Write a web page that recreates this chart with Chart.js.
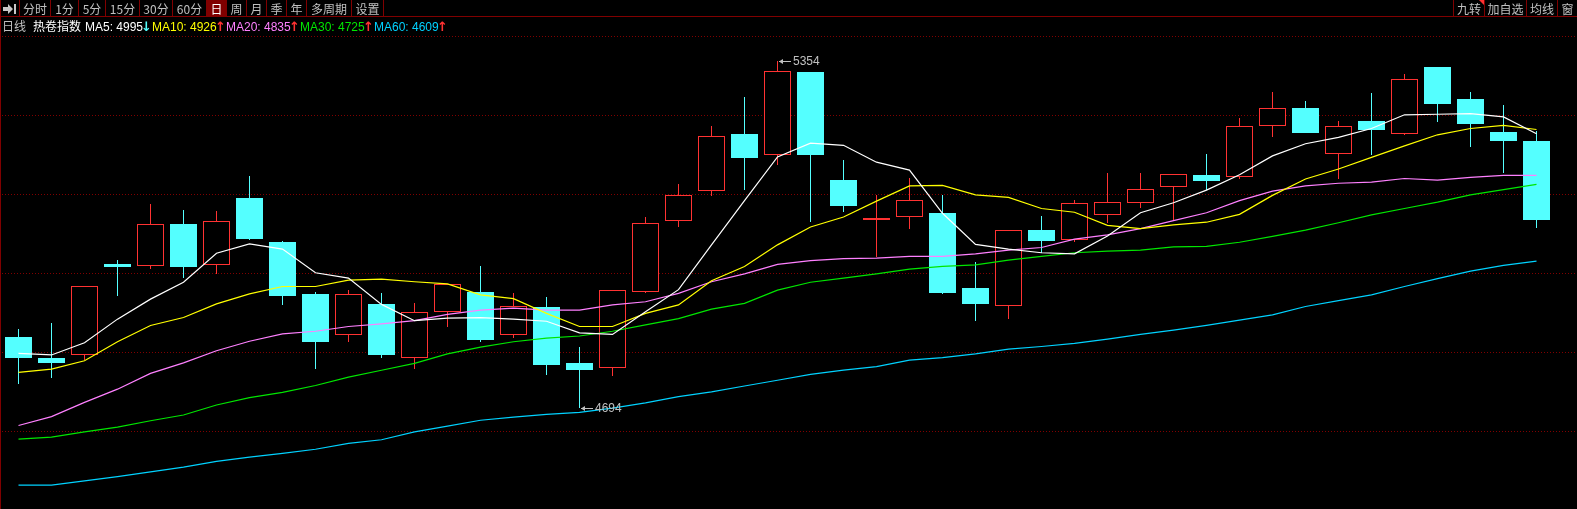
<!DOCTYPE html>
<html>
<head>
<meta charset="utf-8">
<title>热卷指数 日线</title>
<script src="https://cdn.jsdelivr.net/npm/chart.js@4/dist/chart.umd.min.js"></script>
<style>
  html, body { margin: 0; padding: 0; width: 1577px; height: 509px; background: #000; overflow: hidden; }
  #line-chart { position: absolute; left: 0; top: 0; }
  #left-edge { position: absolute; left: 0; top: 0; width: 1px; height: 509px; background: #800000; }
  #bar-line { position: absolute; left: 0; top: 16px; width: 1577px; height: 1px; background: #800000; }
  .btn { position: absolute; top: 0; height: 16px; text-align: center; color: #c0c0c0;
         font: 12px/17px "Noto Sans CJK SC"; border-right: 1px solid #800000; box-sizing: border-box; }
  .btn.on { background: #800000; color: #fff; }
  .leg { position: absolute; top: 19px; font: 12px/16px "Liberation Sans", "Noto Sans CJK SC"; white-space: nowrap; }
  .arr { font: 13px/16px "DejaVu Sans"; font-weight: bold; }
  #flag { position: absolute; left: 1479px; top: 0; width: 0; height: 0; border-top: 5px solid #ff3232; border-left: 5px solid transparent; }
  #arrow-icon { position: absolute; left: 3px; top: 4px; width: 14px; height: 10px; }
</style>
</head>
<body>
<canvas id="line-chart" width="1577" height="509"></canvas>
<div id="left-edge"></div>
<div id="bar-line"></div>

<svg id="arrow-icon" viewBox="0 0 14 10"><path d="M0 3h5V0l5 5-5 5V7H0z" fill="#c8c8c8"/><rect x="11" y="0" width="2" height="10" fill="#c8c8c8"/></svg>
<span class="btn" style="left:19px;width:32px;border-left:1px solid #800000">分时</span>
<span class="btn" style="left:51px;width:28px">1分</span>
<span class="btn" style="left:79px;width:27px">5分</span>
<span class="btn" style="left:106px;width:34px">15分</span>
<span class="btn" style="left:140px;width:33px">30分</span>
<span class="btn" style="left:173px;width:34px">60分</span>
<span class="btn on" style="left:207px;width:20px">日</span>
<span class="btn" style="left:227px;width:20px">周</span>
<span class="btn" style="left:247px;width:20px">月</span>
<span class="btn" style="left:267px;width:20px">季</span>
<span class="btn" style="left:287px;width:20px">年</span>
<span class="btn" style="left:307px;width:45px">多周期</span>
<span class="btn" style="left:352px;width:32px">设置</span>
<span class="btn" style="left:1453px;width:32px;border-left:1px solid #800000">九转</span>
<span class="btn" style="left:1485px;width:42px">加自选</span>
<span class="btn" style="left:1527px;width:31px">均线</span>
<span class="btn" style="left:1558px;width:19px;border-right:0">窗</span>
<div id="flag"></div>

<span class="leg" style="left:2px;color:#c0c0c0">日线</span>
<span class="leg" style="left:33px;color:#fff">热卷指数</span>
<span class="leg" style="left:85px;color:#fff">MA5: 4995</span>
<span class="leg arr" style="left:141px;color:#54ffff">↓</span>
<span class="leg" style="left:152px;color:#ffff00">MA10: 4926</span>
<span class="leg arr" style="left:215px;color:#ff3232">↑</span>
<span class="leg" style="left:226px;color:#ff80ff">MA20: 4835</span>
<span class="leg arr" style="left:289px;color:#ff3232">↑</span>
<span class="leg" style="left:300px;color:#00e600">MA30: 4725</span>
<span class="leg arr" style="left:363px;color:#ff3232">↑</span>
<span class="leg" style="left:374px;color:#00d2ff">MA60: 4609</span>
<span class="leg arr" style="left:437px;color:#ff3232">↑</span>

<script>
// candles, one entry per trading day
const opens = [4829,4789,4794,4968,4963,5044,4966,5093,5009,4911,4832,4892,4790,4877,4915,4833,4886,4780,4770,4915,5050,5107,5214,5175,5332,5127,5051,5056,5065,4922,4887,5032,5014,5061,5084,5114,5137,5133,5230,5264,5177,5239,5215,5342,5281,5218,5201];
const closes = [4789,4780,4925,4962,5043,4962,5049,5015,4907,4820,4910,4795,4876,4929,4823,4887,4776,4766,4918,5045,5098,5210,5169,5334,5175,5078,5055,5089,4913,4892,5032,5011,5083,5085,5110,5138,5125,5229,5263,5216,5229,5222,5318,5271,5233,5201,5051];
const highs = [4844,4856,4925,4975,5082,5070,5068,5135,5011,4914,4918,4913,4894,4929,4964,4913,4905,4810,4918,5057,5120,5230,5285,5354,5332,5165,5099,5131,5099,4971,5032,5059,5089,5140,5140,5138,5177,5245,5294,5277,5239,5292,5328,5342,5294,5270,5220];
const lows = [4740,4751,4785,4906,4958,4942,4949,5013,4890,4768,4820,4789,4768,4848,4820,4827,4757,4694,4755,4913,5038,5097,5108,5156,5047,5066,4981,5034,4911,4859,4863,4989,5010,5045,5074,5051,5108,5129,5209,5216,5129,5174,5213,5237,5190,5140,5036];

// moving averages
const ma5 = [4798,4795,4818,4863,4901,4933,4988,5006,4996,4951,4941,4891,4860,4865,4866,4863,4859,4837,4834,4877,4919,5004,5088,5171,5197,5193,5161,5146,5064,5005,4996,4989,4987,5021,5065,5084,5108,5137,5173,5196,5208,5225,5251,5252,5253,5247,5215];
const ma10 = [4762,4768,4784,4820,4851,4866,4892,4911,4925,4925,4937,4939,4934,4930,4909,4902,4874,4849,4849,4874,4890,4936,4963,5004,5038,5057,5087,5116,5117,5099,5094,5073,5066,5041,5035,5042,5047,5062,5098,5129,5148,5170,5192,5213,5225,5231,5223];
const ma20 = [4661,4678,4705,4730,4760,4780,4803,4821,4835,4840,4849,4854,4860,4872,4880,4884,4880,4880,4890,4896,4912,4934,4949,4967,4974,4978,4979,4982,4982,4987,4994,4999,5015,5023,5035,5050,5065,5088,5106,5116,5121,5123,5130,5127,5132,5136,5136];
const ma30 = [4635,4639,4649,4658,4670,4681,4700,4714,4724,4737,4753,4766,4779,4797,4810,4820,4827,4831,4840,4852,4864,4882,4893,4918,4933,4941,4949,4958,4963,4966,4975,4982,4989,4992,4994,5000,5001,5009,5020,5032,5046,5061,5073,5085,5099,5109,5119];
const ma60 = [4548,4548,4556,4564,4573,4582,4593,4601,4608,4616,4627,4634,4649,4660,4671,4677,4682,4686,4694,4704,4716,4725,4736,4747,4758,4766,4773,4785,4790,4797,4806,4811,4817,4825,4834,4842,4851,4861,4871,4887,4898,4909,4925,4940,4954,4965,4973];

// price levels of the dotted lines
const gridLevels = [4650,4800,4950,5100,5250,5400];

const RED = '#ff3232';
const CYAN = '#54ffff';
const isUp = i => closes[i] >= opens[i];
const days = opens.map((_, i) => i);

function maDataset(values, color) {
  return {
    type: 'line',
    data: days.map(i => ({ x: i, y: values[i] })),
    borderColor: color,
    borderWidth: 1.2,
    pointRadius: 0,
    tension: 0,
    order: 0
  };
}

// keep the candle edges on whole pixels, the original is drawn without anti-aliasing
const snapBars = {
  id: 'snapBars',
  afterDatasetsUpdate(chart) {
    chart.getSortedVisibleDatasetMetas().forEach(meta => {
      if (meta.type !== 'bar') return;
      meta.data.forEach(bar => {
        bar.x = Math.round(bar.x - 0.5) + 0.5;
        bar.y = Math.round(bar.y);
        bar.base = Math.round(bar.base);
      });
    });
  }
};

// the little arrow and number at the highest and lowest price
const extremeLabels = {
  id: 'extremeLabels',
  afterDraw(chart) {
    const { ctx, scales } = chart;
    const top = Math.max(...highs);
    const bottom = Math.min(...lows);
    [[highs.indexOf(top), top], [lows.indexOf(bottom), bottom]].forEach(([i, value]) => {
      const x = Math.round(scales.x.getPixelForValue(i)) + 1;
      const y = Math.round(scales.y.getPixelForValue(value)) + 0.5;
      ctx.save();
      ctx.strokeStyle = '#c0c0c0';
      ctx.fillStyle = '#c0c0c0';
      ctx.lineWidth = 1;
      ctx.beginPath();
      ctx.moveTo(x, y);
      ctx.lineTo(x + 12, y);
      ctx.stroke();
      ctx.beginPath();
      ctx.moveTo(x, y);
      ctx.lineTo(x + 4, y - 2.5);
      ctx.lineTo(x + 4, y + 2.5);
      ctx.fill();
      ctx.font = '12px "Liberation Sans"';
      ctx.textBaseline = 'middle';
      ctx.fillText(String(value), x + 14, y);
      ctx.restore();
    });
  }
};

const ctx = document.getElementById('line-chart').getContext('2d');
new Chart(ctx, {
  type: 'bar',
  plugins: [snapBars, extremeLabels],
  data: {
    datasets: [
      maDataset(ma5, '#ffffff'),
      maDataset(ma10, '#ffff00'),
      maDataset(ma20, '#ff80ff'),
      maDataset(ma30, '#00e600'),
      maDataset(ma60, '#00d2ff'),
      {
        // bodies
        data: days.map(i => ({ x: i, y: [opens[i], closes[i]] })),
        backgroundColor: days.map(i => isUp(i) ? '#000000' : CYAN),
        borderColor: days.map(i => isUp(i) ? RED : CYAN),
        borderWidth: 1,
        borderSkipped: false,
        inflateAmount: 0,
        barThickness: 27,
        grouped: false,
        order: 1
      },
      {
        // wicks
        data: days.map(i => ({ x: i, y: [lows[i], highs[i]] })),
        backgroundColor: days.map(i => isUp(i) ? RED : CYAN),
        borderWidth: 0,
        inflateAmount: 0,
        barThickness: 1,
        grouped: false,
        order: 2
      }
    ]
  },
  options: {
    responsive: false,
    devicePixelRatio: 1,
    animation: false,
    events: [],
    layout: { padding: { left: 2, right: 0, top: 36.3, bottom: 0 } },
    plugins: { legend: { display: false }, tooltip: { enabled: false } },
    scales: {
      x: {
        type: 'linear',
        display: false,
        offset: false,
        min: -0.5,
        max: 47.22727
      },
      y: {
        min: 4502.5,
        max: 5400,
        afterFit: scale => { scale.width = 0; },
        afterBuildTicks: scale => { scale.ticks = gridLevels.map(value => ({ value })); },
        ticks: { display: false },
        grid: { color: '#800000', lineWidth: 1, drawTicks: false },
        border: { display: false, dash: [1, 2] }
      }
    }
  }
});
</script>
</body>
</html>
